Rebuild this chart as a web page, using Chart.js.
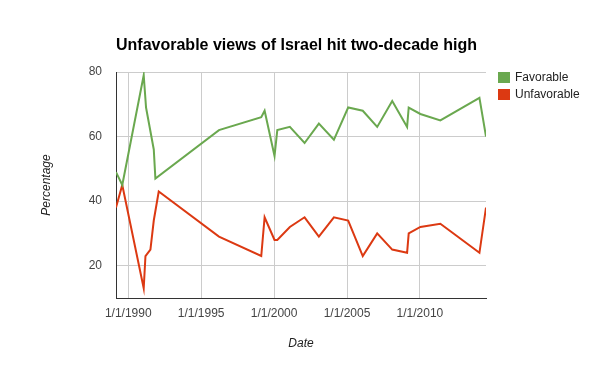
<!DOCTYPE html>
<html>
<head>
<meta charset="utf-8">
<script src="https://cdn.jsdelivr.net/npm/chart.js@4.4.0/dist/chart.umd.min.js"></script>
<style>
  html, body { margin: 0; padding: 0; background: #fff; }
  #wrap { width: 600px; height: 371px; position: relative; }
</style>
</head>
<body>
<div id="wrap"><canvas id="israelChart" width="600" height="371"></canvas></div>
<script>
// --- DATA (decimal years, percent) ---
const chartTitle = 'Unfavorable views of Israel hit two-decade high';
const seriesNames = ['Favorable', 'Unfavorable'];

const favYears = [1989.16, 1989.59, 1991.06, 1991.22, 1991.75, 1991.86, 1996.22, 1999.12, 1999.35,
    2000.03, 2000.22, 2001.08, 2002.09, 2003.07, 2004.10, 2005.08, 2006.08, 2007.07, 2008.10,
    2009.12, 2009.23, 2010.03, 2011.40, 2014.08, 2014.53];
const favValues = [49, 45, 79, 69, 56, 47, 62, 66, 68,
    54, 62, 63, 58, 64, 59, 69, 68, 63, 71,
    63, 69, 67, 65, 72, 60];

const unfavYears = [1989.16, 1989.59, 1991.06, 1991.18, 1991.52, 1991.75, 1992.09, 1996.22, 1999.12, 1999.35,
    2000.03, 2000.22, 2001.08, 2002.09, 2003.07, 2004.10, 2005.08, 2006.08, 2007.07, 2008.10,
    2009.12, 2009.23, 2010.03, 2011.40, 2014.08, 2014.53];
const unfavValues = [38, 45, 13, 23, 25, 34, 43, 29, 23, 35,
    28, 28, 32, 35, 29, 35, 34, 23, 30, 25,
    24, 30, 32, 33, 24, 38];

const xTickYears = [1990, 1995, 2000, 2005, 2010];
const yTickValues = [20, 40, 60, 80];

const FONT = "Arial, 'Liberation Sans', sans-serif";
const GREEN = '#6aa84f';
const RED = '#dc3912';

// title, axis titles and legend drawn in fixed spots
const labelsPlugin = {
    id: 'labels',
    afterDraw(chart) {
        const ctx = chart.ctx;
        const area = chart.chartArea;
        ctx.save();
        ctx.fillStyle = '#000';
        ctx.font = 'bold 16px ' + FONT;
        ctx.textAlign = 'left';
        ctx.textBaseline = 'middle';
        ctx.fillText(chartTitle, area.left, 46);

        ctx.fillStyle = '#222';
        ctx.font = 'italic 12px ' + FONT;
        ctx.textAlign = 'center';
        ctx.fillText('Date', (area.left + area.right) / 2, 344);

        ctx.translate(47, (area.top + area.bottom) / 2);
        ctx.rotate(-Math.PI / 2);
        ctx.fillText('Percentage', 0, 0);
        ctx.restore();

        // legend
        ctx.save();
        ctx.font = '12px ' + FONT;
        ctx.textBaseline = 'middle';
        [GREEN, RED].forEach((c, i) => {
            const y = 72 + i * 17;
            ctx.fillStyle = c;
            ctx.fillRect(498, y, 12, 11);
            ctx.fillStyle = '#222';
            ctx.fillText(seriesNames[i], 515, y + 5.5);
        });
        ctx.restore();
    }
};

function toPoints(xs, ys) {
    return xs.map((x, i) => ({ x: x, y: ys[i] }));
}

const ctx = document.getElementById('israelChart').getContext('2d');
new Chart(ctx, {
    type: 'line',
    data: {
        datasets: [
            {
                label: seriesNames[0],
                data: toPoints(favYears, favValues),
                borderColor: GREEN,
                backgroundColor: GREEN,
                borderWidth: 2,
                pointRadius: 0,
                tension: 0
            },
            {
                label: seriesNames[1],
                data: toPoints(unfavYears, unfavValues),
                borderColor: RED,
                backgroundColor: RED,
                borderWidth: 2,
                pointRadius: 0,
                tension: 0
            }
        ]
    },
    options: {
        responsive: false,
        animation: false,
        layout: { padding: { top: 72, right: 114, bottom: 0, left: 0 } },
        plugins: {
            legend: { display: false },
            title: { display: false },
            tooltip: { enabled: false }
        },
        scales: {
            x: {
                type: 'linear',
                min: 1989.16,
                max: 2014.53,
                afterBuildTicks: (scale) => { scale.ticks = xTickYears.map(v => ({ value: v })); },
                afterFit: (scale) => { scale.height = 73; },
                grid: { color: '#cccccc', drawTicks: false },
                border: { color: '#333', width: 1 },
                ticks: {
                    padding: 8,
                    color: '#444',
                    font: { family: FONT, size: 12 },
                    maxRotation: 0,
                    callback: (v) => '1/1/' + v
                }
            },
            y: {
                min: 10,
                max: 80,
                afterBuildTicks: (scale) => { scale.ticks = yTickValues.map(v => ({ value: v })); },
                afterFit: (scale) => { scale.width = 116; },
                grid: { color: '#cccccc', drawTicks: false },
                border: { color: '#333', width: 1 },
                ticks: {
                    padding: 14,
                    color: '#444',
                    font: { family: FONT, size: 12 }
                }
            }
        }
    },
    plugins: [labelsPlugin]
});
</script>
</body>
</html>
